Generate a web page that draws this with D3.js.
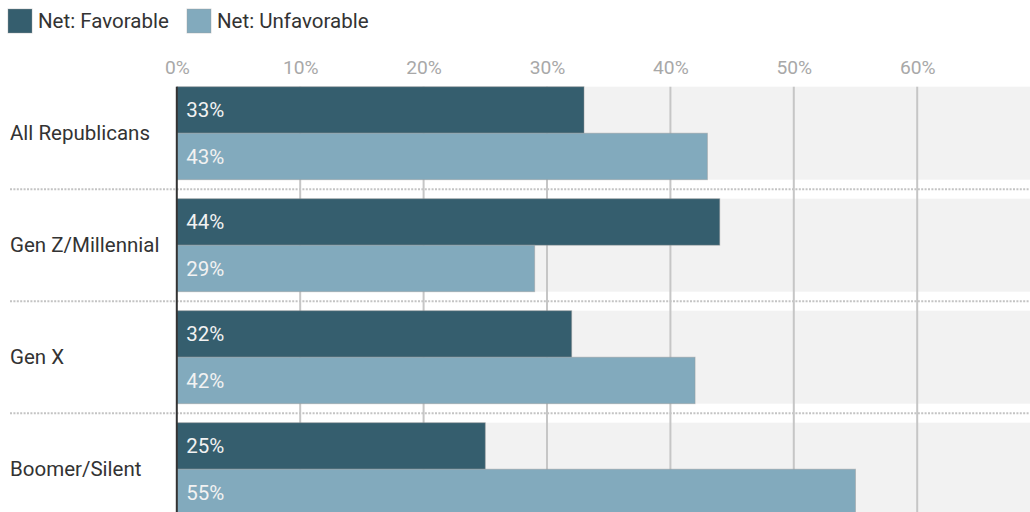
<!DOCTYPE html>
<html>
<head>
<meta charset="utf-8">
<script src="https://cdn.jsdelivr.net/npm/d3@7"></script>
<style>
  html, body { margin: 0; padding: 0; background: #fff; overflow: hidden; }
  svg { display: block; font-family: Roboto, "Noto Sans", sans-serif; }
</style>
</head>
<body>
<svg id="chart" width="1030" height="512"></svg>
<script>
const categories = ["All Republicans", "Gen Z/Millennial", "Gen X", "Boomer/Silent"];
const seriesNames = ["Net: Favorable", "Net: Unfavorable"];
const favorable = [33, 44, 32, 25];
const unfavorable = [43, 29, 42, 55];
const tickValues = [0, 10, 20, 30, 40, 50, 60];
const colors = ["#355e6e", "#82aabd"];

const svg = d3.select("#chart");
const W = 1030, H = 512;

const x = d3.scaleLinear().domain([0, 70]).range([176.8, 1040.6]);
const y = d3.scaleBand().domain(categories).range([86.7, 515.7]).paddingInner(19 / 112).paddingOuter(0);
const ySub = d3.scaleBand().domain(seriesNames).range([0, y.bandwidth()]).padding(0);

const rows = categories.map((c, i) => ({ cat: c, vals: [favorable[i], unfavorable[i]] }));

// background bands
svg.append("g").selectAll("rect").data(categories).join("rect")
  .attr("x", x(0)).attr("y", d => y(d))
  .attr("width", W - x(0)).attr("height", y.bandwidth())
  .attr("fill", "#f2f2f2");

// dotted separators
const gap = y.step() - y.bandwidth();
svg.append("g").selectAll("line").data(categories.slice(0, -1)).join("line")
  .attr("x1", 10).attr("x2", W)
  .attr("y1", d => y(d) + y.bandwidth() + gap / 2)
  .attr("y2", d => y(d) + y.bandwidth() + gap / 2)
  .attr("stroke", "#c4c4c4").attr("stroke-width", 2)
  .attr("stroke-dasharray", "2,1.4");

// gridlines
svg.append("g").selectAll("line").data(tickValues.filter(t => t > 0)).join("line")
  .attr("x1", d => x(d)).attr("x2", d => x(d))
  .attr("y1", y.range()[0]).attr("y2", H)
  .attr("stroke", "#c6c6c6").attr("stroke-width", 2);

// bars
const g = svg.append("g").selectAll("g").data(rows).join("g")
  .attr("transform", d => `translate(0,${y(d.cat)})`);

g.selectAll("rect").data(d => d.vals.map((v, k) => ({ v, k }))).join("rect")
  .attr("x", x(0))
  .attr("y", d => ySub(seriesNames[d.k]))
  .attr("width", d => x(d.v) - x(0))
  .attr("height", ySub.bandwidth())
  .attr("fill", d => colors[d.k])
  .attr("stroke", "#9a9a9a").attr("stroke-opacity", 0.45).attr("stroke-width", 1);

g.selectAll("text").data(d => d.vals.map((v, k) => ({ v, k }))).join("text")
  .attr("x", x(0) + 9.5)
  .attr("y", d => ySub(seriesNames[d.k]) + ySub.bandwidth() / 2)
  .attr("dy", "0.35em")
  .attr("fill", "#f2f2f2")
  .attr("font-size", 20.5)
  .text(d => d.v + "%");

// axis line at 0
svg.append("line")
  .attr("x1", x(0)).attr("x2", x(0))
  .attr("y1", y.range()[0]).attr("y2", H)
  .attr("stroke", "#333").attr("stroke-width", 2);

// top axis
const axis = svg.append("g").attr("transform", "translate(0,73.5)")
  .call(d3.axisTop(x).tickValues(tickValues).tickSize(0).tickPadding(0).tickFormat(d => d + "%"));
axis.select(".domain").remove();
axis.selectAll("text").attr("font-size", 19.2).attr("fill", "#a8a8a8")
  .attr("font-family", "Roboto, sans-serif").attr("dy", 0);

// category labels
svg.append("g").selectAll("text").data(categories).join("text")
  .attr("x", 10)
  .attr("y", d => y(d) + y.bandwidth() / 2)
  .attr("dy", "0.35em")
  .attr("fill", "#333")
  .attr("font-size", 20.5)
  .text(d => d);

// legend
const legendX = [8, 187];
const leg = svg.append("g").selectAll("g").data(seriesNames).join("g")
  .attr("transform", (d, i) => `translate(${legendX[i]},9)`);
leg.append("rect").attr("width", 24).attr("height", 24)
  .attr("fill", (d, i) => colors[i])
  .attr("stroke", "#9a9a9a").attr("stroke-opacity", 0.4);
leg.append("text").attr("x", 30).attr("y", 12).attr("dy", "0.35em")
  .attr("font-size", 20.5).attr("fill", "#333").text(d => d);
</script>
</body>
</html>
